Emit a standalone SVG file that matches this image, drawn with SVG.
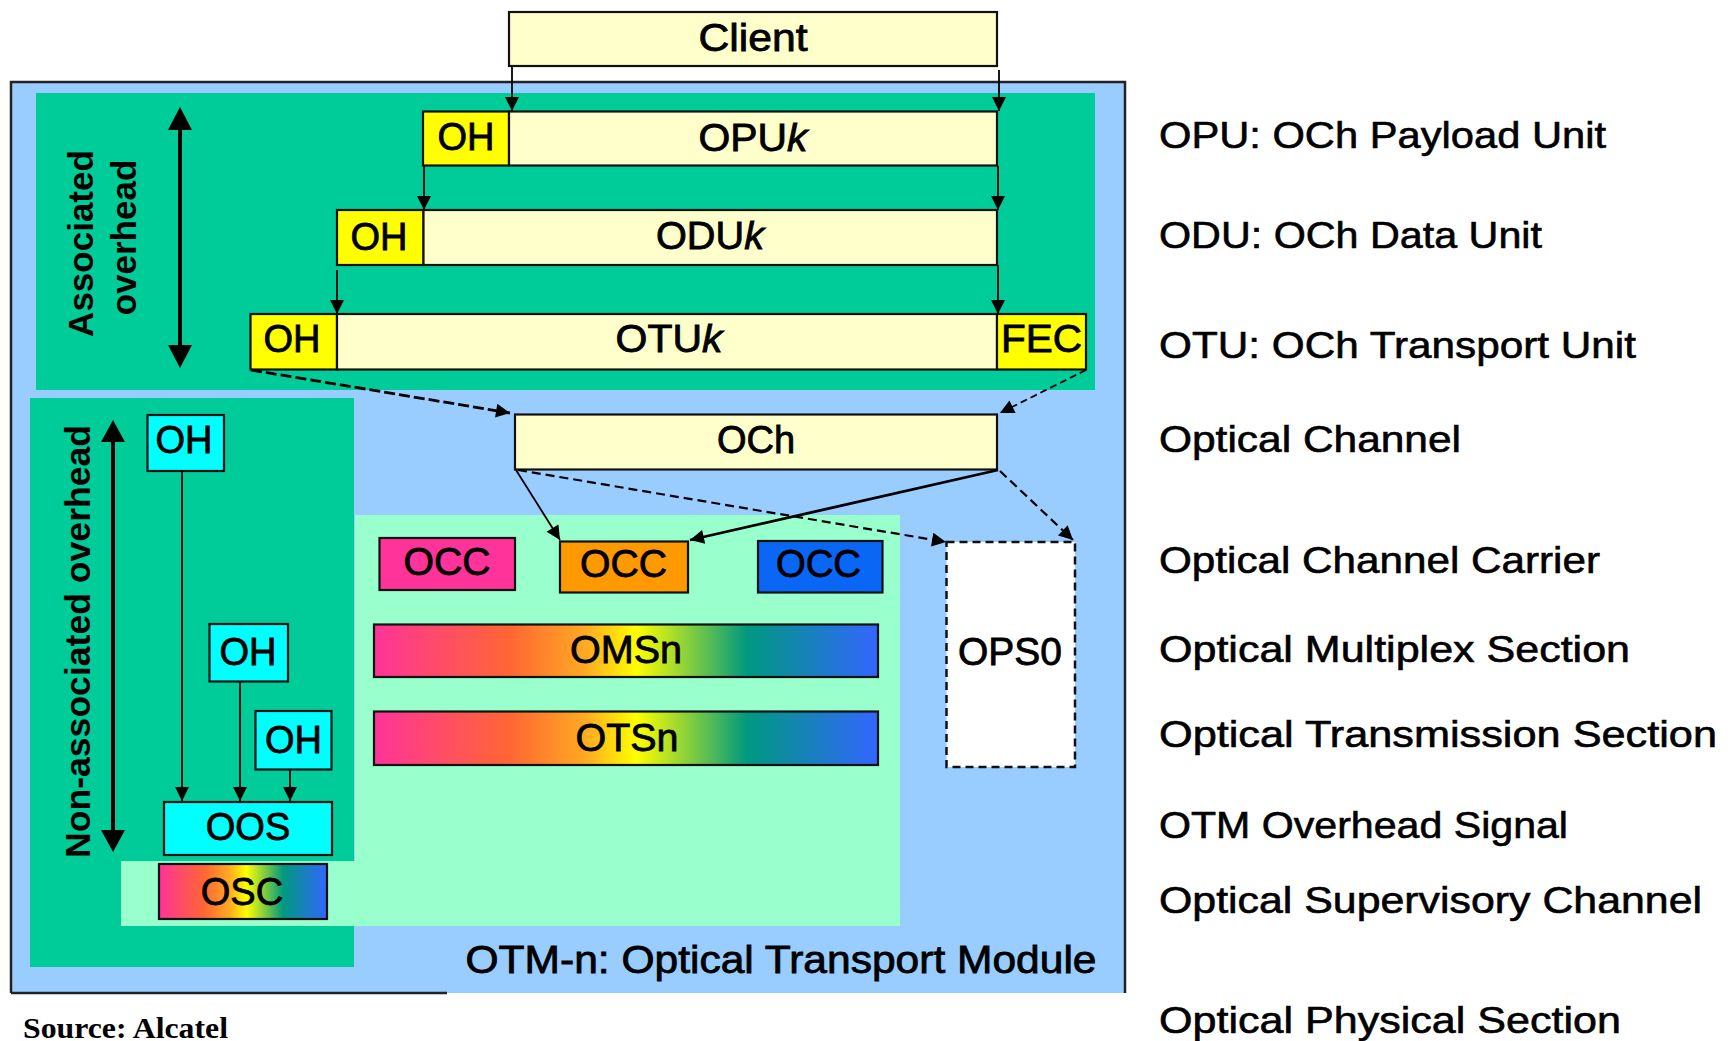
<svg xmlns="http://www.w3.org/2000/svg" width="1729" height="1041" viewBox="0 0 1729 1041">
<defs>
<style>
.t{font-family:"Liberation Sans",Arial,sans-serif;font-size:38px;fill:#000;text-anchor:middle;stroke:#000;stroke-width:0.8}
.r{font-family:"Liberation Sans",Arial,sans-serif;font-size:37px;fill:#000;stroke:#000;stroke-width:0.6}
.v{font-family:"Liberation Sans",Arial,sans-serif;font-size:35px;font-weight:bold;fill:#000;text-anchor:middle}
.box{stroke:#111;stroke-width:2.2}
.pay{fill:#ffffcc}
.yoh{fill:#ffff00}
.coh{fill:#00ffff}
.ln{fill:none;stroke:#000;stroke-width:1.8}
.dl{fill:none;stroke:#000;stroke-width:2.2;stroke-dasharray:9 5}
</style>
<linearGradient id="rb" x1="0" y1="0" x2="1" y2="0">
<stop offset="0" stop-color="#ff3399"/>
<stop offset="0.27" stop-color="#ff6633"/>
<stop offset="0.42" stop-color="#ffaa22"/>
<stop offset="0.52" stop-color="#ffff00"/>
<stop offset="0.74" stop-color="#009980"/>
<stop offset="1" stop-color="#3366ff"/>
</linearGradient>
<marker id="ah" viewBox="0 0 10 10" refX="10" refY="5" markerWidth="17" markerHeight="14" markerUnits="userSpaceOnUse" orient="auto"><path d="M0,0 L10,5 L0,10 z" fill="#000"/></marker>
</defs>

<rect width="1729" height="1041" fill="#ffffff"/>

<g id="otm-frame">
<rect x="11" y="82" width="1114" height="911" fill="#99ccff"/>
<path d="M11,993 L11,82 L1125,82 L1125,993" fill="none" stroke="#222" stroke-width="2.5"/>
<path d="M11,993 L447,993" fill="none" stroke="#222" stroke-width="2.5"/>
<rect x="36" y="93" width="1059" height="297" fill="#00cc99"/>
<rect x="30" y="398" width="324" height="569" fill="#00cc99"/>
<path d="M355,515 L900,515 L900,926 L121,926 L121,861 L355,861 Z" fill="#99ffcc"/>
<text class="t" x="781" y="973" textLength="631" lengthAdjust="spacingAndGlyphs">OTM-n: Optical Transport Module</text>
</g>

<g id="assoc-label">
<text class="v" transform="translate(93,243.5) rotate(-90)">Associated</text>
<text class="v" transform="translate(136,237.5) rotate(-90)">overhead</text>
<line x1="180" y1="125" x2="180" y2="350" stroke="#000" stroke-width="4"/>
<path d="M180,107 L192,130 L168,130 Z M180,368 L192,345 L168,345 Z" fill="#000"/>
</g>

<g id="nonassoc-label">
<text class="v" transform="translate(90,641.5) rotate(-90)" textLength="433" lengthAdjust="spacingAndGlyphs">Non-associated  overhead</text>
<line x1="113" y1="438" x2="113" y2="834" stroke="#000" stroke-width="4"/>
<path d="M113,420 L125,442 L101,442 Z M113,852 L125,830 L101,830 Z" fill="#000"/>
</g>

<g id="client">
<rect class="box pay" x="509" y="12" width="488" height="54"/>
<text class="t" x="753" y="51" textLength="109" lengthAdjust="spacingAndGlyphs">Client</text>
</g>

<g id="opu">
<rect class="box yoh" x="423" y="111.5" width="86" height="54"/>
<text class="t" x="466" y="150">OH</text>
<rect class="box pay" x="509" y="111.5" width="488" height="54"/>
<text class="t" x="753" y="151" textLength="109" lengthAdjust="spacingAndGlyphs">OPU<tspan font-style="italic">k</tspan></text>
</g>

<g id="odu">
<rect class="box yoh" x="337" y="210" width="86.5" height="55"/>
<text class="t" x="379" y="250">OH</text>
<rect class="box pay" x="423.5" y="210" width="573.5" height="55"/>
<text class="t" x="710" y="249" textLength="108" lengthAdjust="spacingAndGlyphs">ODU<tspan font-style="italic">k</tspan></text>
</g>

<g id="otu">
<rect class="box yoh" x="250.5" y="314" width="86.5" height="55.5"/>
<text class="t" x="292" y="351.5">OH</text>
<rect class="box pay" x="337" y="314" width="660" height="55.5"/>
<text class="t" x="669" y="351.5" textLength="107" lengthAdjust="spacingAndGlyphs">OTU<tspan font-style="italic">k</tspan></text>
<rect class="box yoh" x="997" y="314" width="89" height="55.5"/>
<text class="t" x="1041.5" y="351.5" textLength="81" lengthAdjust="spacingAndGlyphs">FEC</text>
</g>

<g id="och">
<rect class="box pay" x="515" y="414.5" width="482" height="55"/>
<text class="t" x="756" y="453">OCh</text>
</g>

<g id="occ1">
<rect class="box" x="379.5" y="538" width="135.5" height="52" fill="#ff3399"/>
<text class="t" x="447" y="575" textLength="87" lengthAdjust="spacingAndGlyphs">OCC</text>
</g>
<g id="occ2">
<rect class="box" x="560" y="541.5" width="128" height="51" fill="#ff9900"/>
<text class="t" x="623.5" y="577" textLength="87" lengthAdjust="spacingAndGlyphs">OCC</text>
</g>
<g id="occ3">
<rect class="box" x="758" y="541" width="124.5" height="51.5" fill="#0a66f5"/>
<text class="t" x="818.5" y="576.5" textLength="85" lengthAdjust="spacingAndGlyphs">OCC</text>
</g>

<g id="omsn">
<rect class="box" x="374" y="624.5" width="504" height="52.5" fill="url(#rb)"/>
<text class="t" x="626" y="663" textLength="112" lengthAdjust="spacingAndGlyphs">OMSn</text>
</g>
<g id="otsn">
<rect class="box" x="374" y="711.5" width="504" height="53.5" fill="url(#rb)"/>
<text class="t" x="627" y="751" textLength="103" lengthAdjust="spacingAndGlyphs">OTSn</text>
</g>

<g id="ops0">
<rect x="946.5" y="542" width="128.5" height="225" fill="#ffffff" stroke="#111" stroke-width="2.5" stroke-dasharray="8 5"/>
<text class="t" x="1010" y="665" textLength="104" lengthAdjust="spacingAndGlyphs">OPS0</text>
</g>

<g id="oh1">
<rect class="box coh" x="147.5" y="415" width="76.5" height="56"/>
<text class="t" x="184" y="453">OH</text>
</g>
<g id="oh2">
<rect class="box coh" x="209.5" y="624" width="78.5" height="57.5"/>
<text class="t" x="248" y="665">OH</text>
</g>
<g id="oh3">
<rect class="box coh" x="255.5" y="711" width="76" height="58.5"/>
<text class="t" x="293.5" y="752.5">OH</text>
</g>

<g id="oos">
<rect class="box coh" x="164" y="802" width="168" height="53"/>
<text class="t" x="248" y="840">OOS</text>
</g>
<g id="osc">
<rect class="box" x="159" y="864" width="168" height="55" fill="url(#rb)"/>
<text class="t" x="242" y="905">OSC</text>
</g>

<g id="connectors">
<line class="ln" x1="512" y1="66" x2="512" y2="111" marker-end="url(#ah)"/>
<line class="ln" x1="999" y1="70" x2="999" y2="111" marker-end="url(#ah)"/>
<line class="ln" x1="424" y1="166" x2="424" y2="210" marker-end="url(#ah)"/>
<line class="ln" x1="998" y1="166" x2="998" y2="210" marker-end="url(#ah)"/>
<line class="ln" x1="337" y1="270" x2="337" y2="314" marker-end="url(#ah)"/>
<line class="ln" x1="998" y1="265" x2="998" y2="314" marker-end="url(#ah)"/>
<line x1="251" y1="370" x2="510" y2="413" fill="none" stroke="#000" stroke-width="2.8" stroke-dasharray="11 4" marker-end="url(#ah)"/>
<line x1="1086" y1="370" x2="1000" y2="413" fill="none" stroke="#000" stroke-width="1.8" stroke-dasharray="7 4" marker-end="url(#ah)"/>
<line class="ln" x1="516" y1="470" x2="560" y2="540" marker-end="url(#ah)"/>
<line x1="998" y1="470" x2="690" y2="540" fill="none" stroke="#000" stroke-width="2.8" marker-end="url(#ah)"/>
<line class="dl" x1="518" y1="470" x2="946" y2="542" marker-end="url(#ah)"/>
<line class="dl" x1="1000" y1="471" x2="1073" y2="540" marker-end="url(#ah)"/>
<line class="ln" x1="182" y1="471" x2="182" y2="801" marker-end="url(#ah)"/>
<line class="ln" x1="240" y1="682" x2="240" y2="801" marker-end="url(#ah)"/>
<line class="ln" x1="290" y1="770" x2="290" y2="801" marker-end="url(#ah)"/>
</g>

<g id="legend">
<text class="r" x="1159" y="148" textLength="447" lengthAdjust="spacingAndGlyphs">OPU: OCh Payload Unit</text>
<text class="r" x="1159" y="248" textLength="383" lengthAdjust="spacingAndGlyphs">ODU: OCh Data Unit</text>
<text class="r" x="1159" y="358" textLength="477" lengthAdjust="spacingAndGlyphs">OTU: OCh Transport Unit</text>
<text class="r" x="1159" y="452" textLength="302" lengthAdjust="spacingAndGlyphs">Optical Channel</text>
<text class="r" x="1159" y="573" textLength="441" lengthAdjust="spacingAndGlyphs">Optical Channel Carrier</text>
<text class="r" x="1159" y="662" textLength="471" lengthAdjust="spacingAndGlyphs">Optical Multiplex Section</text>
<text class="r" x="1159" y="747" textLength="558" lengthAdjust="spacingAndGlyphs">Optical Transmission Section</text>
<text class="r" x="1159" y="838" textLength="409" lengthAdjust="spacingAndGlyphs">OTM Overhead Signal</text>
<text class="r" x="1159" y="913" textLength="543" lengthAdjust="spacingAndGlyphs">Optical Supervisory Channel</text>
<text class="r" x="1159" y="1033" textLength="462" lengthAdjust="spacingAndGlyphs">Optical Physical Section</text>
</g>

<text id="source" x="23" y="1038" font-family="'Liberation Serif','Times New Roman',serif" font-size="30" font-weight="bold" textLength="205" lengthAdjust="spacingAndGlyphs">Source: Alcatel</text>
</svg>
